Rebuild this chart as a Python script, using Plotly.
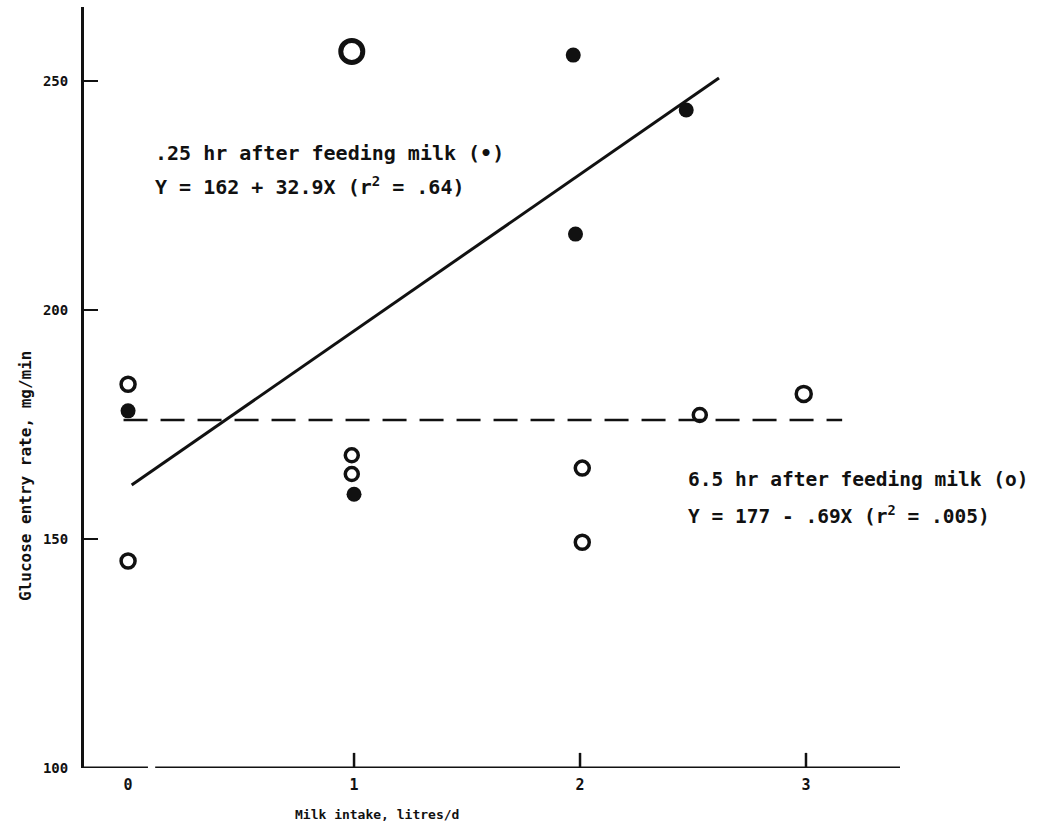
import plotly.graph_objects as go

# Data
open_x = [0.0, 0.0, 0.99, 0.99, 0.99, 2.01, 2.01, 2.53, 2.99]
open_y = [183.8, 145.2, 256.5, 168.3, 164.2, 165.5, 149.3, 177.1, 181.7]
open_size = [14, 14, 22, 13, 13, 14, 14, 13, 15]

filled_x = [0.0, 1.0, 1.97, 2.47, 1.98]
filled_y = [178.0, 159.8, 255.7, 243.7, 216.6]

fit_025_x = [0.016, 2.615]
fit_025_y = [161.8, 250.7]

fit_65_x = [-0.02, 3.16]
fit_65_y = [176.0, 176.0]

x_ticks = [0, 1, 2, 3]
x_tick_text = ["0", "1", "2", "3"]
y_ticks = [100, 150, 200, 250]
y_tick_text = ["100", "150", "200", "250"]

x_range = [-0.195, 3.416]
y_range = [100, 266.2]

INK = "#111111"
MONO = "DejaVu Sans Mono"

fig = go.Figure()

fig.add_trace(go.Scatter(
    x=fit_025_x, y=fit_025_y, mode="lines",
    line=dict(color=INK, width=3), showlegend=False, hoverinfo="skip"))
fig.add_trace(go.Scatter(
    x=fit_65_x, y=fit_65_y, mode="lines",
    line=dict(color=INK, width=2.5, dash="24px,13px"), showlegend=False, hoverinfo="skip"))
fig.add_trace(go.Scatter(
    x=open_x, y=open_y, mode="markers",
    marker=dict(symbol="circle-open", size=open_size, color=INK, opacity=1,
                line=dict(width=[3.5, 3.5, 5, 3.5, 3.5, 3.5, 3.5, 3.5, 3.5], color=INK)),
    showlegend=False))
fig.add_trace(go.Scatter(
    x=filled_x, y=filled_y, mode="markers",
    marker=dict(symbol="circle", size=15, color=INK, opacity=1),
    showlegend=False))

# x axis line with a break near the origin, and inside ticks at 1,2,3
shapes = [
    dict(type="line", xref="x", yref="y", x0=x_range[0], x1=0.088, y0=100, y1=100,
         line=dict(color=INK, width=3)),
    dict(type="line", xref="x", yref="y", x0=0.12, x1=x_range[1], y0=100, y1=100,
         line=dict(color=INK, width=3)),
]
for t in x_ticks[1:]:
    shapes.append(dict(type="line", xref="x", yref="y", x0=t, x1=t, y0=100, y1=103.3,
                       line=dict(color=INK, width=2.5)))

annotations = [
    dict(x=0.11, y=234.3, xref="x", yref="y", xanchor="left", yanchor="middle",
         text=".25 hr after feeding milk (•)", showarrow=False,
         font=dict(family=MONO, size=20, color=INK, weight="bold")),
    dict(x=0.11, y=227.0, xref="x", yref="y", xanchor="left", yanchor="middle",
         text="Y = 162 + 32.9X (r<sup>2</sup> = .64)", showarrow=False,
         font=dict(family=MONO, size=20, color=INK, weight="bold")),
    dict(x=2.47, y=162.9, xref="x", yref="y", xanchor="left", yanchor="middle",
         text="6.5 hr after feeding milk (o)", showarrow=False,
         font=dict(family=MONO, size=19.5, color=INK, weight="bold")),
    dict(x=2.47, y=155.3, xref="x", yref="y", xanchor="left", yanchor="middle",
         text="Y = 177 - .69X (r<sup>2</sup> = .005)", showarrow=False,
         font=dict(family=MONO, size=19.5, color=INK, weight="bold")),
    # axis titles (given in window pixels, converted below)
    dict(x=377, y=815, xref="paper", yref="paper",
         xanchor="center", yanchor="middle", text="Milk intake, litres/d", showarrow=False,
         font=dict(family=MONO, size=13, color=INK, weight="bold")),
    dict(x=25, y=476, xref="paper", yref="paper",
         xanchor="center", yanchor="middle", text="Glucose entry rate, mg/min", showarrow=False,
         textangle=-90,
         font=dict(family=MONO, size=16, color=INK, weight="bold")),
]
L, R, T, B = 84, 143, 7, 62
W, H = 1043, 830
pw, ph = W - L - R, H - T - B
for a in annotations[4:]:
    px, py = a["x"], a["y"]
    a["x"] = (px - L) / pw
    a["y"] = 1 - (py - T) / ph

fig.update_layout(
    width=W, height=H,
    margin=dict(l=L, r=R, t=T, b=B, pad=0),
    paper_bgcolor="white", plot_bgcolor="white",
    shapes=shapes, annotations=annotations,
    xaxis=dict(range=x_range, showline=False, showgrid=False, zeroline=False,
               tickvals=x_ticks, ticktext=x_tick_text, ticks="",
               ticklabelstandoff=6,
               tickfont=dict(family=MONO, size=15, color=INK, weight="bold")),
    yaxis=dict(range=y_range, showline=True, linewidth=3, linecolor=INK,
               showgrid=False, zeroline=False,
               tickvals=y_ticks, ticktext=y_tick_text,
               ticks="inside", ticklen=14, tickwidth=2, tickcolor=INK,
               ticklabelstandoff=10,
               tickfont=dict(family=MONO, size=14, color=INK, weight="bold")),
)

fig.write_html("out.html",
               config={"displayModeBar": False},
               post_script="document.body.style.margin='0';document.body.style.overflow='hidden';")
